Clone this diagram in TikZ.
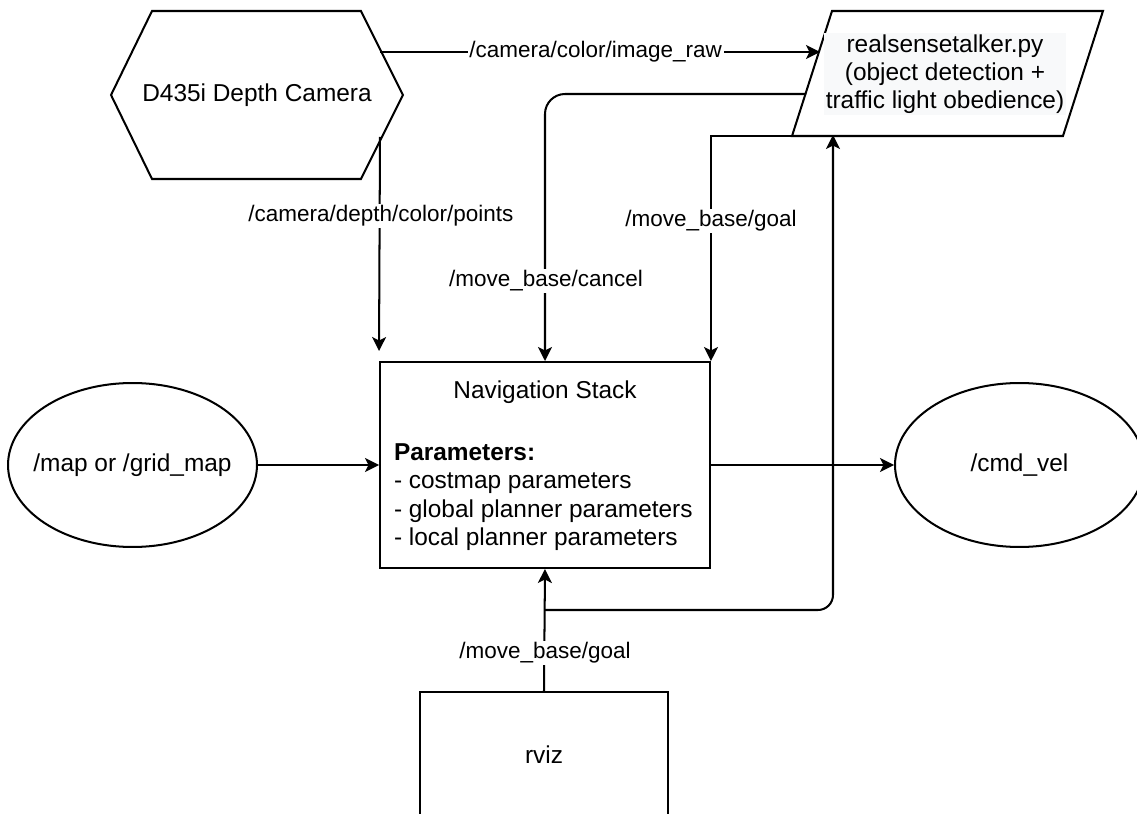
\documentclass[tikz,border=0pt]{standalone}
\usepackage{fontspec}
\setmainfont{Liberation Sans}
\usetikzlibrary{arrows.meta,shapes.geometric}
\definecolor{lblbg}{RGB}{248,249,250}
\begin{document}
\begin{tikzpicture}[x=0.02cm,y=-0.02cm,
  line width=1.15pt,
  lbl/.style={font=\fontsize{12.8}{14.5}\selectfont, fill=white, inner sep=1pt},
  ntext/.style={font=\fontsize{13.9}{16}\selectfont, align=center},
  frame/.style={draw=none, inner sep=0pt},
  arr/.style={-{Stealth[length=0.28cm,width=0.28cm,inset=0.07cm]}},
  ]
\useasboundingbox (0,0) rectangle (1137,814);
\clip (0,0) rectangle (1137,814);

% D435i hexagon
\node[frame, ntext, minimum width=5.8cm, minimum height=3.32cm] (cam) at (257,95) {D435i Depth Camera};
\draw (cam.west) -- ([xshift=0.82cm]cam.north west) -- ([xshift=-0.84cm]cam.north east) -- (cam.east)
      -- ([xshift=-0.84cm]cam.south east) -- ([xshift=0.82cm]cam.south west) -- cycle;
\coordinate (camA) at (380,52);
\coordinate (camB) at (380,137);

% realsensetalker parallelogram
\node[frame, minimum width=6.18cm, minimum height=2.46cm] (rs) at (947.5,73.5) {};
\draw ([xshift=0.8cm]rs.north west) -- (rs.north east) -- ([xshift=-0.8cm]rs.south east) -- (rs.south west) -- cycle;
\node[ntext, fill=lblbg, inner sep=1pt] (rstext) at (945,74) {realsensetalker.py\\(object detection +\\traffic light obedience)};
\coordinate (rsA) at (820,52);
\coordinate (rsC) at (806,94);
\coordinate (rsB) at (833,135);

% Navigation stack
\node[draw, minimum width=6.6cm, minimum height=4.12cm, inner sep=0pt] (nav) at (545,465) {};
\node[ntext] (navtitle) at (545,392) {Navigation Stack};
\node[ntext, align=left, anchor=north west, inner sep=0pt] (navparams) at (393,443)
  {\textbf{Parameters:}\\- costmap parameters\\- global planner parameters\\- local planner parameters};

% ellipses
\node[frame, ntext, minimum width=4.98cm, minimum height=3.28cm] (map) at (132.5,465) {/map or /grid\_map};
\draw (map.center) ellipse [x radius=2.49cm, y radius=1.64cm];
\node[frame, ntext, minimum width=4.98cm, minimum height=3.28cm] (cmd) at (1019.5,465) {/cmd\_vel};
\draw (cmd.center) ellipse [x radius=2.49cm, y radius=1.64cm];

% rviz
\node[draw, ntext, minimum width=4.96cm, minimum height=2.52cm, inner sep=0pt] (rviz) at (544,755) {rviz};

% connectors
\draw[arr] (camA) -- (rsA) node[lbl, pos=0.49] {/camera/color/image\_raw};
\draw[arr] (camB) -- ([yshift=0.2cm]nav.north west);
\node[lbl] at (381,216) {/camera/depth/color/points};
\draw[arr, rounded corners=0.4cm] (rsC) -| (nav.north);
\node[lbl] at (546,281) {/move\_base/cancel};
\draw[arr] (rs.south west) -| (nav.north east);
\node[lbl] at (711,221) {/move\_base/goal};
\draw[arr] (map.east) -- (nav.west);
\draw[arr] (nav.east) -- (cmd.west);
\draw[arr] (rviz.north) -- (nav.south);
\coordinate (junc) at (545,610);
\draw[arr, rounded corners=0.3cm] (junc) -| (rsB);
\node[lbl] at (545,653) {/move\_base/goal};
\end{tikzpicture}
\end{document}
